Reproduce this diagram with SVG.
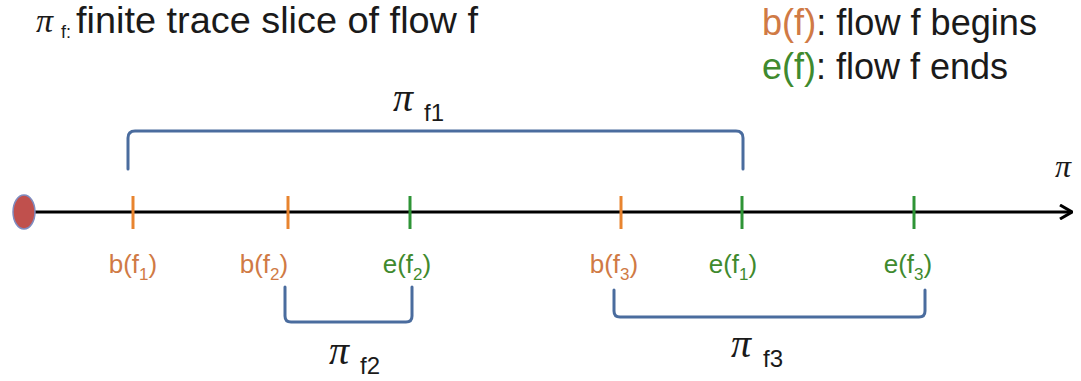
<svg xmlns="http://www.w3.org/2000/svg" width="1081" height="381" viewBox="0 0 1081 381">
<style>
text{font-family:"Liberation Sans",Arial,sans-serif;}
.blk{fill:#1a1a1a;}
.pi{font-family:"Liberation Serif","DejaVu Serif",serif;fill:#1a1a1a;font-style:italic;}
.or{fill:#D07A45;}
.gr{fill:#3F8A2E;}
.lbl{font-size:26px;text-anchor:middle;}
.tko{stroke:#E8842F;stroke-width:3;}
.tkg{stroke:#2E9436;stroke-width:3;}
.br{fill:none;stroke:#4A6C9E;stroke-width:3;stroke-linecap:round;stroke-linejoin:round;}
</style>
<defs>
<marker id="arr" viewBox="0 0 14 16" refX="13" refY="8" markerWidth="14" markerHeight="16" markerUnits="userSpaceOnUse" orient="auto">
<path d="M1,1 L13,8 L1,15" fill="none" stroke="#000" stroke-width="3" stroke-linejoin="miter"/>
</marker>
</defs>
<rect width="1081" height="381" fill="#fff"/>
<g id="title">
<text class="pi" x="36" y="32" font-size="34">π</text>
<text class="blk" x="61" y="38" font-size="18">f:</text>
<text class="blk" x="76" y="33" font-size="36" textLength="402" lengthAdjust="spacingAndGlyphs">finite trace slice of flow f</text>
</g>
<g id="legend">
<text x="762" y="35" font-size="36" textLength="275" lengthAdjust="spacingAndGlyphs"><tspan class="or">b(f)</tspan><tspan class="blk">: flow f begins</tspan></text>
<text x="762" y="79" font-size="36" textLength="246" lengthAdjust="spacingAndGlyphs"><tspan class="gr">e(f)</tspan><tspan class="blk">: flow f ends</tspan></text>
</g>
<g id="axis">
<line x1="30" y1="212" x2="1072" y2="212" stroke="#000" stroke-width="3" marker-end="url(#arr)"/>
<text class="pi" x="1055" y="177" font-size="32">π</text>
</g>
<g id="origin">
<ellipse cx="24" cy="212" rx="11" ry="17" fill="#C0504D" stroke="#7F8CC0" stroke-width="1.5"/>
</g>
<g id="ticks">
<line class="tko" x1="133" y1="196" x2="133" y2="229"/>
<line class="tko" x1="288" y1="196" x2="288" y2="229"/>
<line class="tkg" x1="410" y1="196" x2="410" y2="229"/>
<line class="tko" x1="621" y1="196" x2="621" y2="229"/>
<line class="tkg" x1="742" y1="196" x2="742" y2="229"/>
<line class="tkg" x1="914" y1="196" x2="914" y2="229"/>
</g>
<g id="node-bf1"><text class="lbl or" x="133" y="273">b(f<tspan font-size="17" dy="7">1</tspan><tspan dy="-7">)</tspan></text></g>
<g id="node-bf2"><text class="lbl or" x="264" y="273">b(f<tspan font-size="17" dy="7">2</tspan><tspan dy="-7">)</tspan></text></g>
<g id="node-ef2"><text class="lbl gr" x="407" y="273">e(f<tspan font-size="17" dy="7">2</tspan><tspan dy="-7">)</tspan></text></g>
<g id="node-bf3"><text class="lbl or" x="614" y="273">b(f<tspan font-size="17" dy="7">3</tspan><tspan dy="-7">)</tspan></text></g>
<g id="node-ef1"><text class="lbl gr" x="733" y="273">e(f<tspan font-size="17" dy="7">1</tspan><tspan dy="-7">)</tspan></text></g>
<g id="node-ef3"><text class="lbl gr" x="908" y="273">e(f<tspan font-size="17" dy="7">3</tspan><tspan dy="-7">)</tspan></text></g>
<g id="connectors">
<path class="br" d="M128,169 V138 Q128,131 135,131 H736 Q743,131 743,138 V169"/>
<path class="br" d="M285,287 V316 Q285,322 291,322 H406 Q412,322 412,316 V287"/>
<path class="br" d="M614,290 V311 Q614,317 620,317 H919 Q925,317 925,311 V290"/>
</g>
<g id="label-f1">
<text class="pi" x="393" y="111" font-size="40">π</text>
<text class="blk" x="424" y="121" font-size="24">f1</text>
</g>
<g id="label-f2">
<text class="pi" x="329" y="364" font-size="40">π</text>
<text class="blk" x="360" y="374" font-size="24">f2</text>
</g>
<g id="label-f3">
<text class="pi" x="731" y="357" font-size="40">π</text>
<text class="blk" x="763" y="367" font-size="24">f3</text>
</g>
</svg>
